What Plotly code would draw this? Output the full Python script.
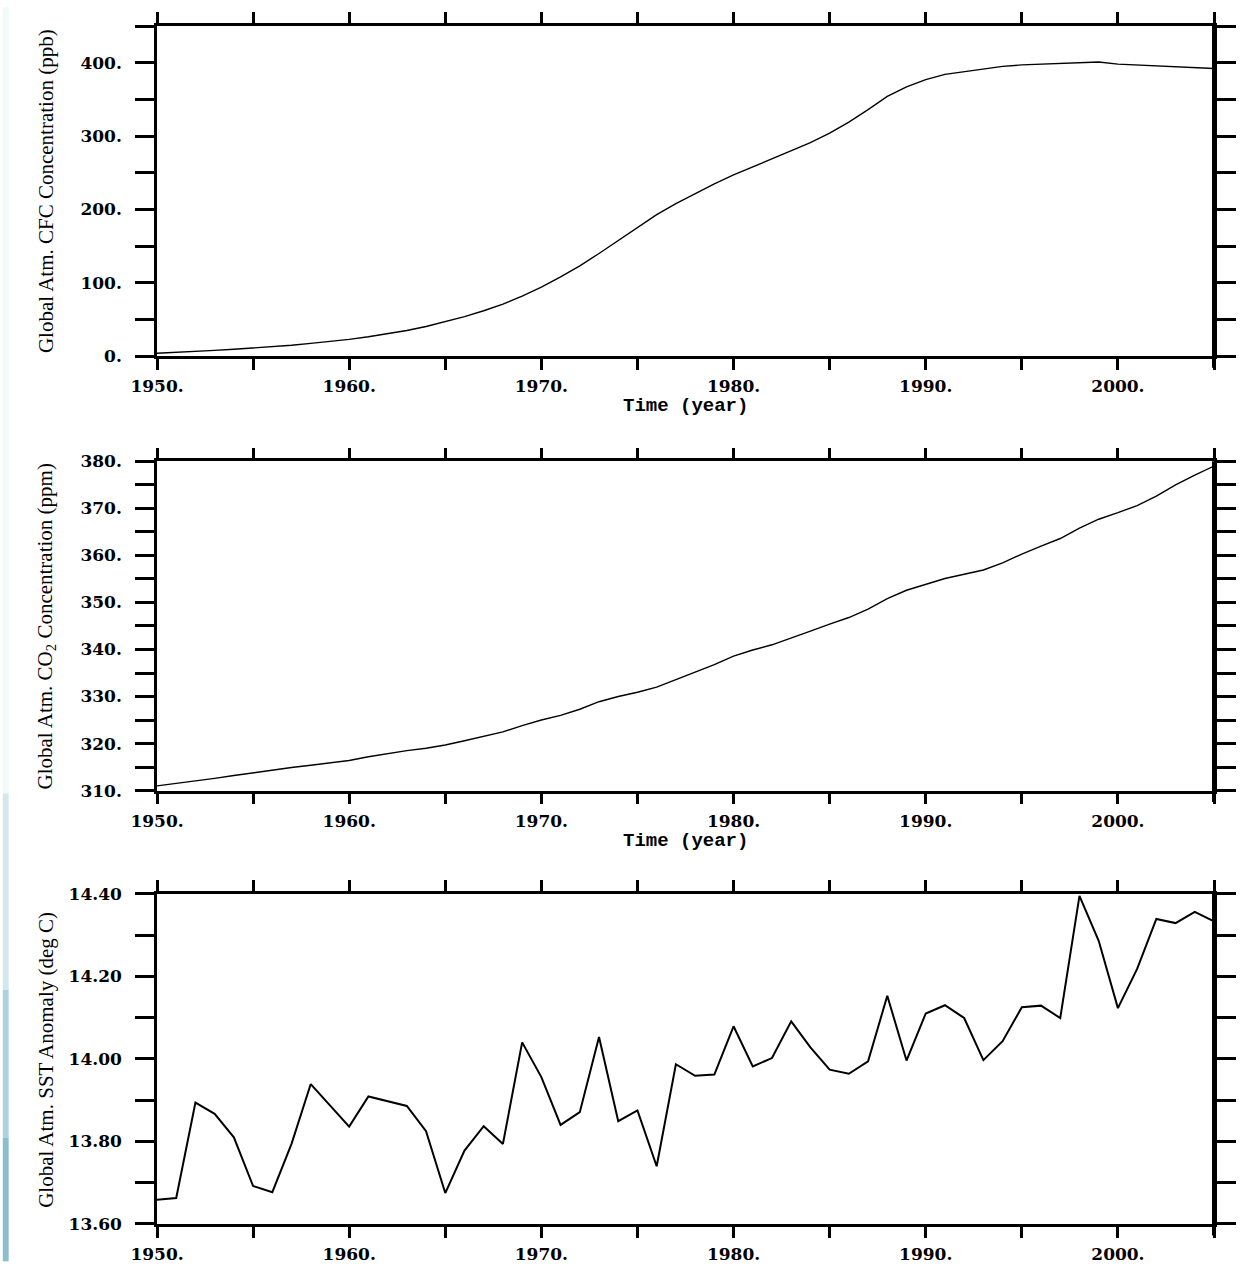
import plotly.graph_objects as go

years = list(range(1950, 2006))

cfc = [4, 5, 6.5, 8, 9.5, 11, 13, 15, 17.5, 20,
       23, 26.5, 30.5, 35, 40.5, 47, 54, 62, 71, 82,
       94, 108, 123, 140, 158, 176, 193, 208, 222, 235,
       247, 258, 268, 279, 291, 304, 319, 336, 354, 367,
       377, 384, 388, 392, 395, 397, 398, 399, 401, 401,
       398, 397, 396, 395, 394, 392]

co2 = [311.0, 311.5, 312.0, 312.6, 313.2, 313.8, 314.4, 314.9, 315.4, 315.9,
       316.4, 317.2, 317.9, 318.5, 319.0, 319.7, 320.6, 321.5, 322.5, 323.8,
       325.0, 326.0, 327.3, 328.9, 330.0, 330.9, 332.0, 333.6, 335.2, 336.8,
       338.6, 339.9, 341.0, 342.4, 343.9, 345.4, 346.8, 348.6, 350.8, 352.6,
       353.9, 355.1, 356.0, 356.9, 358.4, 360.3, 362.0, 363.6, 365.8, 367.7,
       369.1, 370.6, 372.6, 375.0, 377.1, 379.0]

sst = [13.659, 13.663, 13.894, 13.867, 13.81, 13.692, 13.677, 13.794, 13.939, 13.887,
       13.836, 13.909, 13.898, 13.886, 13.825, 13.675, 13.778, 13.837, 13.794, 14.04,
       13.956, 13.84, 13.871, 14.053, 13.849, 13.875, 13.74, 13.987, 13.959, 13.962,
       14.079, 13.982, 14.002, 14.091, 14.028, 13.974, 13.964, 13.994, 14.153, 13.996,
       14.11, 14.13, 14.099, 13.997, 14.043, 14.125, 14.129, 14.099, 14.395, 14.286,
       14.123, 14.218, 14.339, 14.329, 14.356, 14.333]

x_tickvals = list(range(1950, 2006, 5))
x_ticktext = ["1950.", "", "1960.", "", "1970.", "", "1980.", "", "1990.", "", "2000.", ""]

cfc_tickvals = list(range(0, 451, 50))
cfc_ticktext = ["0.", "", "100.", "", "200.", "", "300.", "", "400.", ""]

co2_tickvals = list(range(310, 381, 5))
co2_ticktext = ["310.", "", "320.", "", "330.", "", "340.", "", "350.", "", "360.", "", "370.", "", "380."]

sst_tickvals = [13.6, 13.7, 13.8, 13.9, 14.0, 14.1, 14.2, 14.3, 14.4]
sst_ticktext = ["13.60", "", "13.80", "", "14.00", "", "14.20", "", "14.40"]

y_titles = ["Global Atm. CFC Concentration (ppb)",
            "Global Atm. CO<sub>2</sub> Concentration (ppm)",
            "Global Atm. SST Anomaly (deg C)"]
x_title = "Time (year)"

W, H = 1248, 1276
L, R, T, B = 157, 15, 19, 38
ph = H - T - B

def py(pix):
    return (H - B - pix) / ph

domains = [[py(355), py(19)], [py(797), py(462)], [py(1238), py(902)]]

tickfont = dict(family="DejaVu Serif", size=17, color="black", weight="bold")

fig = go.Figure()

series = [cfc, co2, sst]
widths = [1.4, 1.4, 2.0]
for i, s in enumerate(series):
    fig.add_trace(go.Scatter(x=years, y=s, mode="lines",
                             line=dict(color="black", width=widths[i]),
                             xaxis="x" if i == 0 else f"x{i+1}",
                             yaxis="y" if i == 0 else f"y{i+1}",
                             showlegend=False))

yranges = [[0, 450], [310, 380], [13.6, 14.4]]
yticks = [(cfc_tickvals, cfc_ticktext), (co2_tickvals, co2_ticktext), (sst_tickvals, sst_ticktext)]

layout = dict(width=W, height=H, margin=dict(l=L, r=R, t=T, b=B),
              paper_bgcolor="white", plot_bgcolor="white", showlegend=False)

for i in range(3):
    xk = "xaxis" if i == 0 else f"xaxis{i+1}"
    yk = "yaxis" if i == 0 else f"yaxis{i+1}"
    ya = "y" if i == 0 else f"y{i+1}"
    xa = "x" if i == 0 else f"x{i+1}"
    layout[xk] = dict(domain=[0, 1], anchor=ya, range=[1950, 2005],
                      tickmode="array", tickvals=x_tickvals, ticktext=x_ticktext,
                      ticks="outside", ticklen=11, tickwidth=3, tickcolor="black",
                      showline=True, linecolor="black", linewidth=2.5, mirror="allticks",
                      showgrid=False, zeroline=False, tickfont=tickfont,
                      ticklabelstandoff=2)
    layout[yk] = dict(domain=domains[i], anchor=xa, range=yranges[i],
                      tickmode="array", tickvals=yticks[i][0], ticktext=yticks[i][1],
                      ticks="outside", ticklen=19, tickwidth=2.5, tickcolor="black",
                      showline=True, linecolor="black", linewidth=2.5, mirror="allticks",
                      showgrid=False, zeroline=False, tickfont=tickfont,
                      ticklabelstandoff=10)

fig.update_layout(**layout)

# thicker right spine
for i in range(3):
    xa = "x" if i == 0 else f"x{i+1}"
    ya = "y" if i == 0 else f"y{i+1}"
    fig.add_shape(type="line", xref=f"{xa} domain", yref=f"{ya} domain",
                  x0=1, x1=1, y0=-0.035, y1=1.0, line=dict(color="black", width=4))

# y titles
title_centers = [187, 630, 1071]
for i in range(3):
    fig.add_annotation(text=y_titles[i], xref="paper", yref="paper",
                       x=(44 - L) / (W - L - R), y=py(title_centers[i]),
                       xanchor="center", yanchor="middle", textangle=-90, showarrow=False,
                       font=dict(family="Liberation Serif", size=21, color="black"))

# x titles
for yc in [406, 848]:
    fig.add_annotation(text=x_title, xref="paper", yref="paper",
                       x=0.5, y=py(yc), xanchor="center", yanchor="middle", showarrow=False,
                       font=dict(family="Liberation Mono", size=19, color="black", weight="bold"))

# pale blue strip on the left page edge
strip = [(0, 800, "#f3f8fb"), (800, 1000, "#d3e7ee"), (1000, 1150, "#add2de"), (1150, 1276, "#8bbfcf")]
for y0p, y1p, col in strip:
    fig.add_shape(type="rect", xref="paper", yref="paper",
                  x0=-L / (W - L - R), x1=(6 - L) / (W - L - R),
                  y0=py(y1p), y1=py(y0p), line=dict(width=0), fillcolor=col, layer="below")

post = ("document.documentElement.style.overflow='hidden';"
        "document.body.style.margin='0px';document.body.style.overflow='hidden';"
        "var gd=document.getElementById('{plot_id}');"
        "gd.style.position='fixed';gd.style.left='0px';gd.style.top='0px';")

fig.write_html("out.html", config={"displayModeBar": False}, post_script=post)
